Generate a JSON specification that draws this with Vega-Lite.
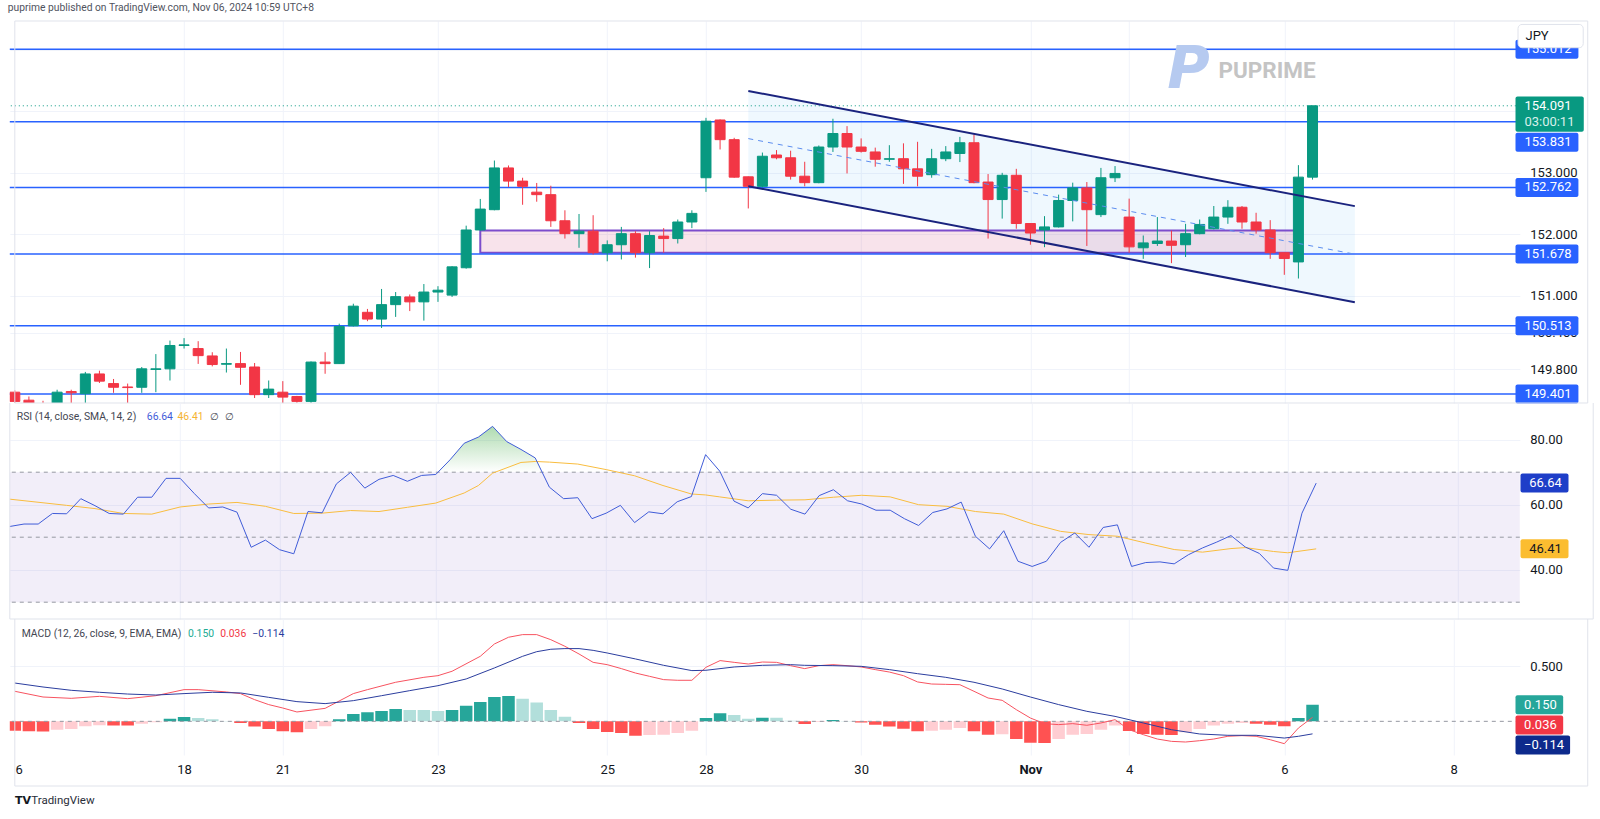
{
"$schema": "https://vega.github.io/schema/vega-lite/v6.json",
"background": "#ffffff",
"padding": {"left": 7.8, "top": 3, "right": 6, "bottom": 4},
"title": {"text": "puprime published on TradingView.com, Nov 06, 2024 10:59 UTC+8", "anchor": "start", "font": "Roboto", "fontSize": 10.3, "fontWeight": "normal", "color": "#50535e", "offset": 7},
"bounds": "flush",
"spacing": 0,
"config": {"view": {"stroke": null}, "axis": {"labelFont": "Roboto", "labelFontSize": 13, "labelColor": "#131722", "gridColor": "#f0f3fa"}, "text": {"font": "Roboto"}},
"datasets": {
"one": [{"k": 1}],
"candles": [
{"i":0,"o":149.43,"h":149.46,"l":149.20,"c":149.28},
{"i":1,"o":149.30,"h":149.36,"l":149.15,"c":149.22},
{"i":2,"o":149.22,"h":149.29,"l":149.10,"c":149.18},
{"i":3,"o":149.20,"h":149.47,"l":149.18,"c":149.43},
{"i":4,"o":149.44,"h":149.47,"l":149.25,"c":149.42},
{"i":5,"o":149.405,"h":149.76,"l":149.25,"c":149.727},
{"i":6,"o":149.727,"h":149.78,"l":149.58,"c":149.61},
{"i":7,"o":149.57,"h":149.645,"l":149.42,"c":149.51},
{"i":8,"o":149.515,"h":149.57,"l":149.25,"c":149.505},
{"i":9,"o":149.51,"h":149.84,"l":149.42,"c":149.81},
{"i":10,"o":149.80,"h":150.05,"l":149.43,"c":149.81},
{"i":11,"o":149.81,"h":150.27,"l":149.62,"c":150.19},
{"i":12,"o":150.19,"h":150.31,"l":150.14,"c":150.20},
{"i":13,"o":150.14,"h":150.26,"l":149.89,"c":150.025},
{"i":14,"o":150.02,"h":150.08,"l":149.85,"c":149.88},
{"i":15,"o":149.885,"h":150.14,"l":149.75,"c":149.895},
{"i":16,"o":149.895,"h":150.085,"l":149.55,"c":149.835},
{"i":17,"o":149.84,"h":149.905,"l":149.335,"c":149.39},
{"i":18,"o":149.39,"h":149.62,"l":149.335,"c":149.48},
{"i":19,"o":149.43,"h":149.61,"l":149.25,"c":149.35},
{"i":20,"o":149.36,"h":149.37,"l":149.22,"c":149.28},
{"i":21,"o":149.28,"h":149.93,"l":149.22,"c":149.92},
{"i":22,"o":149.92,"h":150.08,"l":149.73,"c":149.895},
{"i":23,"o":149.895,"h":150.545,"l":149.89,"c":150.50},
{"i":24,"o":150.51,"h":150.87,"l":150.50,"c":150.83},
{"i":25,"o":150.73,"h":150.785,"l":150.585,"c":150.62},
{"i":26,"o":150.62,"h":151.11,"l":150.475,"c":150.855},
{"i":27,"o":150.855,"h":151.06,"l":150.655,"c":150.985},
{"i":28,"o":150.98,"h":151.02,"l":150.75,"c":150.90},
{"i":29,"o":150.90,"h":151.19,"l":150.595,"c":151.06},
{"i":30,"o":151.06,"h":151.155,"l":150.90,"c":151.09},
{"i":31,"o":151.01,"h":151.48,"l":150.98,"c":151.47},
{"i":32,"o":151.455,"h":152.14,"l":151.44,"c":152.07},
{"i":33,"o":152.07,"h":152.575,"l":152.06,"c":152.41},
{"i":34,"o":152.40,"h":153.20,"l":152.39,"c":153.08},
{"i":35,"o":153.08,"h":153.12,"l":152.77,"c":152.865},
{"i":36,"o":152.865,"h":152.92,"l":152.48,"c":152.78},
{"i":37,"o":152.685,"h":152.835,"l":152.53,"c":152.645},
{"i":38,"o":152.645,"h":152.79,"l":152.12,"c":152.22},
{"i":39,"o":152.22,"h":152.39,"l":151.93,"c":152.01},
{"i":40,"o":152.01,"h":152.33,"l":151.78,"c":152.05},
{"i":41,"o":152.05,"h":152.31,"l":151.67,"c":151.70},
{"i":42,"o":151.70,"h":151.90,"l":151.56,"c":151.83},
{"i":43,"o":151.83,"h":152.12,"l":151.59,"c":152.01},
{"i":44,"o":152.01,"h":152.05,"l":151.62,"c":151.70},
{"i":45,"o":151.70,"h":152.05,"l":151.45,"c":151.98},
{"i":46,"o":151.97,"h":152.10,"l":151.70,"c":151.93},
{"i":47,"o":151.93,"h":152.24,"l":151.85,"c":152.20},
{"i":48,"o":152.20,"h":152.39,"l":152.10,"c":152.34},
{"i":49,"o":152.92,"h":153.895,"l":152.69,"c":153.84},
{"i":50,"o":153.86,"h":153.87,"l":153.38,"c":153.54},
{"i":51,"o":153.54,"h":153.57,"l":152.92,"c":152.93},
{"i":52,"o":152.935,"h":152.94,"l":152.42,"c":152.78},
{"i":53,"o":152.78,"h":153.33,"l":152.76,"c":153.27},
{"i":54,"o":153.29,"h":153.37,"l":153.22,"c":153.245},
{"i":55,"o":153.245,"h":153.36,"l":152.89,"c":152.945},
{"i":56,"o":152.945,"h":153.18,"l":152.78,"c":152.84},
{"i":57,"o":152.84,"h":153.445,"l":152.83,"c":153.42},
{"i":58,"o":153.42,"h":153.88,"l":153.34,"c":153.64},
{"i":59,"o":153.64,"h":153.76,"l":152.99,"c":153.42},
{"i":60,"o":153.42,"h":153.56,"l":153.33,"c":153.35},
{"i":61,"o":153.34,"h":153.41,"l":153.10,"c":153.22},
{"i":62,"o":153.22,"h":153.45,"l":153.18,"c":153.23},
{"i":63,"o":153.23,"h":153.48,"l":152.82,"c":153.065},
{"i":64,"o":153.065,"h":153.505,"l":152.78,"c":152.945},
{"i":65,"o":152.97,"h":153.39,"l":152.92,"c":153.23},
{"i":66,"o":153.23,"h":153.435,"l":153.19,"c":153.34},
{"i":67,"o":153.315,"h":153.585,"l":153.175,"c":153.49},
{"i":68,"o":153.49,"h":153.62,"l":152.83,"c":152.84},
{"i":69,"o":152.85,"h":152.98,"l":151.93,"c":152.565},
{"i":70,"o":152.565,"h":153.0,"l":152.255,"c":152.96},
{"i":71,"o":152.96,"h":153.065,"l":152.09,"c":152.175},
{"i":72,"o":152.175,"h":152.18,"l":151.83,"c":152.02},
{"i":73,"o":152.07,"h":152.295,"l":151.79,"c":152.12},
{"i":74,"o":152.12,"h":152.645,"l":152.11,"c":152.55},
{"i":75,"o":152.55,"h":152.84,"l":152.21,"c":152.755},
{"i":76,"o":152.755,"h":152.85,"l":151.81,"c":152.40},
{"i":77,"o":152.32,"h":153.08,"l":152.28,"c":152.92},
{"i":78,"o":152.92,"h":153.11,"l":152.85,"c":152.99},
{"i":79,"o":152.28,"h":152.58,"l":151.70,"c":151.795},
{"i":80,"o":151.78,"h":151.98,"l":151.60,"c":151.86},
{"i":81,"o":151.85,"h":152.28,"l":151.81,"c":151.89},
{"i":82,"o":151.89,"h":152.06,"l":151.53,"c":151.82},
{"i":83,"o":151.83,"h":152.17,"l":151.63,"c":152.01},
{"i":84,"o":152.01,"h":152.24,"l":152.0,"c":152.16},
{"i":85,"o":152.09,"h":152.46,"l":152.08,"c":152.28},
{"i":86,"o":152.28,"h":152.555,"l":152.17,"c":152.44},
{"i":87,"o":152.44,"h":152.46,"l":152.09,"c":152.20},
{"i":88,"o":152.20,"h":152.35,"l":152.01,"c":152.07},
{"i":89,"o":152.07,"h":152.23,"l":151.60,"c":151.70},
{"i":90,"o":151.70,"h":151.70,"l":151.34,"c":151.605},
{"i":91,"o":151.55,"h":153.125,"l":151.28,"c":152.93},
{"i":92,"o":152.93,"h":154.09,"l":152.89,"c":154.091}
],
"levels": [{"p":155.012},{"p":153.831},{"p":152.762},{"p":151.678},{"p":150.513},{"p":149.401}],
"pbox": [{"p":155.012},{"p":152.762},{"p":151.678},{"p":150.513},{"p":149.401}],
"pbox2": [{"p":153.831}],
"last": [{"p":154.091}],
"channel": [{"i":52,"up":154.332,"mid":153.557,"lo":152.783},{"i":95,"up":152.458,"mid":151.676,"lo":150.894}],
"zone": [{"i1":33,"i2":91,"top":152.06,"bot":151.70}],
"rsi": [
{"i":0,"v":53.3},{"i":1,"v":54.05},{"i":2,"v":54.05},{"i":3,"v":57.3},{"i":4,"v":57.2},{"i":5,"v":61.85},{"i":6,"v":59.7},{"i":7,"v":57.3},{"i":8,"v":57.1},{"i":9,"v":62.3},
{"i":10,"v":62.3},{"i":11,"v":68.1},{"i":12,"v":68.1},{"i":13,"v":63.4},{"i":14,"v":59.0},{"i":15,"v":59.3},{"i":16,"v":57.7},{"i":17,"v":46.9},{"i":18,"v":49.1},{"i":19,"v":46.15},
{"i":20,"v":44.9},{"i":21,"v":57.9},{"i":22,"v":57.5},{"i":23,"v":66.4},{"i":24,"v":69.95},{"i":25,"v":65.1},{"i":26,"v":67.8},{"i":27,"v":69.0},{"i":28,"v":67.2},{"i":29,"v":69.0},
{"i":30,"v":69.3},{"i":31,"v":73.8},{"i":32,"v":78.9},{"i":33,"v":80.8},{"i":34,"v":84.1},{"i":35,"v":79.4},{"i":36,"v":77.0},{"i":37,"v":74.4},{"i":38,"v":65.4},{"i":39,"v":61.85},
{"i":40,"v":62.15},{"i":41,"v":55.7},{"i":42,"v":57.4},{"i":43,"v":59.8},{"i":44,"v":54.5},{"i":45,"v":57.8},{"i":46,"v":57.2},{"i":47,"v":60.9},{"i":48,"v":62.5},{"i":49,"v":75.4},
{"i":50,"v":70.3},{"i":51,"v":61.1},{"i":52,"v":59.0},{"i":53,"v":63.4},{"i":54,"v":62.9},{"i":55,"v":58.6},{"i":56,"v":57.1},{"i":57,"v":62.8},{"i":58,"v":64.6},{"i":59,"v":61.2},
{"i":60,"v":60.2},{"i":61,"v":58.3},{"i":62,"v":58.3},{"i":63,"v":55.7},{"i":64,"v":53.6},{"i":65,"v":57.6},{"i":66,"v":58.7},{"i":67,"v":60.8},{"i":68,"v":50.3},{"i":69,"v":46.4},
{"i":70,"v":52.0},{"i":71,"v":42.6},{"i":72,"v":41.0},{"i":73,"v":42.6},{"i":74,"v":48.4},{"i":75,"v":51.3},{"i":76,"v":46.9},{"i":77,"v":53.0},{"i":78,"v":53.8},{"i":79,"v":41.0},
{"i":80,"v":42.2},{"i":81,"v":42.4},{"i":82,"v":41.8},{"i":83,"v":44.6},{"i":84,"v":46.7},{"i":85,"v":48.5},{"i":86,"v":50.5},{"i":87,"v":47.0},{"i":88,"v":45.0},{"i":89,"v":40.5},
{"i":90,"v":39.8},{"i":91,"v":57.4},{"i":92,"v":66.64}
],
"rsima": [
{"i":0,"v":61.7},{"i":4,"v":59.8},{"i":6,"v":58.8},{"i":8,"v":57.3},{"i":10,"v":57.1},{"i":12,"v":59.3},{"i":14,"v":60.2},{"i":16,"v":60.7},{"i":18,"v":59.5},{"i":20,"v":57.3},
{"i":22,"v":57.4},{"i":24,"v":58.2},{"i":26,"v":57.9},{"i":28,"v":59.2},{"i":30,"v":60.5},{"i":32,"v":63.6},{"i":33,"v":65.9},{"i":34,"v":69.7},{"i":36,"v":73.0},{"i":37,"v":73.3},
{"i":38,"v":73.1},{"i":40,"v":72.5},{"i":42,"v":70.8},{"i":44,"v":68.9},{"i":46,"v":65.9},{"i":48,"v":63.3},{"i":49,"v":63.0},{"i":50,"v":62.4},{"i":52,"v":61.2},{"i":54,"v":61.4},
{"i":56,"v":61.5},{"i":58,"v":62.3},{"i":60,"v":62.9},{"i":62,"v":62.4},{"i":64,"v":60.0},{"i":66,"v":59.5},{"i":68,"v":57.9},{"i":70,"v":57.1},{"i":72,"v":54.1},{"i":74,"v":51.8},
{"i":76,"v":50.8},{"i":78,"v":50.3},{"i":80,"v":48.2},{"i":82,"v":46.2},{"i":84,"v":45.4},{"i":86,"v":46.5},{"i":87,"v":46.8},{"i":89,"v":45.6},{"i":90,"v":45.2},{"i":92,"v":46.41}
],
"ob": [{"i":30.16,"v":70},{"i":31,"v":73.8},{"i":32,"v":78.9},{"i":33,"v":80.8},{"i":34,"v":84.1},{"i":35,"v":79.4},{"i":36,"v":77.0},{"i":37,"v":74.4},{"i":37.51,"v":70}],
"rsilev": [{"r":70},{"r":50},{"r":30}],
"rsilast": [{"v":66.64}],
"malast": [{"v":46.41}],
"macd": [
{"i":0,"v":0.273},{"i":2,"v":0.221},{"i":4,"v":0.209},{"i":6,"v":0.227},{"i":8,"v":0.206},{"i":10,"v":0.233},{"i":12,"v":0.288},{"i":13,"v":0.288},{"i":15,"v":0.267},{"i":16,"v":0.252},
{"i":17,"v":0.197},{"i":18,"v":0.152},{"i":19,"v":0.121},{"i":20,"v":0.085},{"i":22,"v":0.118},{"i":24,"v":0.252},{"i":25,"v":0.288},{"i":27,"v":0.355},{"i":29,"v":0.400},{"i":30,"v":0.415},
{"i":31,"v":0.455},{"i":33,"v":0.591},{"i":34,"v":0.703},{"i":35,"v":0.764},{"i":36,"v":0.788},{"i":37,"v":0.788},{"i":38,"v":0.742},{"i":39,"v":0.682},{"i":40,"v":0.612},{"i":41,"v":0.536},
{"i":42,"v":0.515},{"i":43,"v":0.479},{"i":44,"v":0.439},{"i":45,"v":0.409},{"i":46,"v":0.379},{"i":47,"v":0.373},{"i":48,"v":0.373},{"i":49,"v":0.491},{"i":50,"v":0.552},{"i":51,"v":0.536},
{"i":52,"v":0.521},{"i":53,"v":0.539},{"i":54,"v":0.536},{"i":55,"v":0.506},{"i":56,"v":0.479},{"i":57,"v":0.506},{"i":58,"v":0.515},{"i":59,"v":0.506},{"i":60,"v":0.494},{"i":61,"v":0.470},
{"i":62,"v":0.448},{"i":63,"v":0.415},{"i":64,"v":0.358},{"i":65,"v":0.339},{"i":66,"v":0.336},{"i":67,"v":0.333},{"i":68,"v":0.273},{"i":69,"v":0.212},{"i":70,"v":0.191},{"i":71,"v":0.106},
{"i":72,"v":0.030},{"i":73,"v":-0.021},{"i":74,"v":-0.030},{"i":75,"v":-0.021},{"i":76,"v":-0.036},{"i":77,"v":-0.015},{"i":78,"v":0.015},{"i":79,"v":-0.076},{"i":80,"v":-0.121},{"i":81,"v":-0.161},
{"i":82,"v":-0.182},{"i":83,"v":-0.188},{"i":84,"v":-0.176},{"i":85,"v":-0.161},{"i":86,"v":-0.136},{"i":87,"v":-0.130},{"i":88,"v":-0.136},{"i":89,"v":-0.167},{"i":90,"v":-0.203},{"i":91,"v":-0.061},
{"i":92,"v":0.036}
],
"signal": [
{"i":0,"v":0.348},{"i":2,"v":0.312},{"i":4,"v":0.282},{"i":6,"v":0.264},{"i":8,"v":0.248},{"i":10,"v":0.239},{"i":12,"v":0.252},{"i":14,"v":0.264},{"i":16,"v":0.258},{"i":18,"v":0.218},
{"i":20,"v":0.179},{"i":22,"v":0.161},{"i":24,"v":0.188},{"i":26,"v":0.233},{"i":28,"v":0.279},{"i":30,"v":0.324},{"i":32,"v":0.385},{"i":34,"v":0.485},{"i":36,"v":0.591},{"i":37,"v":0.633},
{"i":38,"v":0.655},{"i":39,"v":0.661},{"i":40,"v":0.661},{"i":41,"v":0.645},{"i":42,"v":0.621},{"i":44,"v":0.567},{"i":46,"v":0.509},{"i":48,"v":0.461},{"i":49,"v":0.464},{"i":51,"v":0.494},
{"i":53,"v":0.509},{"i":55,"v":0.515},{"i":56,"v":0.509},{"i":58,"v":0.506},{"i":60,"v":0.500},{"i":62,"v":0.470},{"i":64,"v":0.433},{"i":66,"v":0.400},{"i":68,"v":0.355},{"i":70,"v":0.294},
{"i":72,"v":0.221},{"i":74,"v":0.152},{"i":76,"v":0.091},{"i":78,"v":0.045},{"i":80,"v":-0.015},{"i":82,"v":-0.076},{"i":84,"v":-0.115},{"i":86,"v":-0.127},{"i":88,"v":-0.127},{"i":90,"v":-0.152},
{"i":91,"v":-0.136},{"i":92,"v":-0.114}
],
"hist": [
{"i":0,"h":-0.085},{"i":1,"h":-0.090},{"i":2,"h":-0.092},{"i":3,"h":-0.076},{"i":4,"h":-0.070},{"i":5,"h":-0.045},{"i":6,"h":-0.035},{"i":7,"h":-0.037},{"i":8,"h":-0.039},{"i":9,"h":-0.021},
{"i":10,"h":-0.009},{"i":11,"h":0.024},{"i":12,"h":0.039},{"i":13,"h":0.030},{"i":14,"h":0.018},{"i":15,"h":0.003},{"i":16,"h":-0.015},{"i":17,"h":-0.048},{"i":18,"h":-0.070},{"i":19,"h":-0.091},
{"i":20,"h":-0.100},{"i":21,"h":-0.070},{"i":22,"h":-0.045},{"i":23,"h":0.018},{"i":24,"h":0.067},{"i":25,"h":0.082},{"i":26,"h":0.094},{"i":27,"h":0.112},{"i":28,"h":0.104},{"i":29,"h":0.102},
{"i":30,"h":0.094},{"i":31,"h":0.103},{"i":32,"h":0.142},{"i":33,"h":0.176},{"i":34,"h":0.221},{"i":35,"h":0.230},{"i":36,"h":0.206},{"i":37,"h":0.170},{"i":38,"h":0.103},{"i":39,"h":0.042},
{"i":40,"h":-0.015},{"i":41,"h":-0.070},{"i":42,"h":-0.097},{"i":43,"h":-0.106},{"i":44,"h":-0.130},{"i":45,"h":-0.124},{"i":46,"h":-0.121},{"i":47,"h":-0.106},{"i":48,"h":-0.085},{"i":49,"h":0.030},
{"i":50,"h":0.073},{"i":51,"h":0.058},{"i":52,"h":0.024},{"i":53,"h":0.033},{"i":54,"h":0.032},{"i":55,"h":0.006},{"i":56,"h":-0.025},{"i":57,"h":-0.005},{"i":58,"h":0.012},{"i":59,"h":0.004},
{"i":60,"h":-0.010},{"i":61,"h":-0.030},{"i":62,"h":-0.048},{"i":63,"h":-0.068},{"i":64,"h":-0.090},{"i":65,"h":-0.085},{"i":66,"h":-0.076},{"i":67,"h":-0.061},{"i":68,"h":-0.091},{"i":69,"h":-0.121},
{"i":70,"h":-0.118},{"i":71,"h":-0.161},{"i":72,"h":-0.195},{"i":73,"h":-0.197},{"i":74,"h":-0.161},{"i":75,"h":-0.121},{"i":76,"h":-0.115},{"i":77,"h":-0.076},{"i":78,"h":-0.039},{"i":79,"h":-0.088},
{"i":80,"h":-0.115},{"i":81,"h":-0.121},{"i":82,"h":-0.124},{"i":83,"h":-0.100},{"i":84,"h":-0.070},{"i":85,"h":-0.039},{"i":86,"h":-0.021},{"i":87,"h":-0.015},{"i":88,"h":-0.021},{"i":89,"h":-0.030},
{"i":90,"h":-0.045},{"i":91,"h":0.030},{"i":92,"h":0.150}
]
},
"vconcat": [
{
"width": 1510, "height": 382,
"layer": [
{"data": {"name": "channel"}, "mark": {"type": "area", "color": "#2196f3", "opacity": 0.07},
 "encoding": {
  "x": {"field": "i", "type": "quantitative", "scale": {"domain": [0, 106.34], "nice": false, "zero": false},
        "axis": {"values": [0.27,12,19,30,42,49,60,72,79,90,102], "labels": false, "ticks": false, "domain": false, "title": null, "grid": true, "gridColor": {"condition": {"test": "datum.value < 1", "value": "transparent"}, "value": "#f0f3fa"}}},
  "y": {"field": "up", "type": "quantitative", "scale": {"domain": [149.254, 155.471], "nice": false, "zero": false},
        "axis": {"orient": "right", "values": [149.8,150.4,151,152,153,154,155], "labelExpr": "datum.value >= 154 ? '' : format(datum.value, '.3f')", "labelPadding": 10, "ticks": false, "domain": false, "title": null, "grid": true, "gridColor": "#f0f3fa"}},
  "y2": {"field": "lo"}}},
{"data": {"name": "zone"}, "mark": {"type": "rect", "fill": "#c2185b", "fillOpacity": 0.12, "stroke": "#7c4dcc", "strokeWidth": 2},
 "encoding": {"x": {"field": "i1", "type": "quantitative"}, "x2": {"field": "i2"}, "y": {"field": "top", "type": "quantitative"}, "y2": {"field": "bot"}}},
{"data": {"name": "levels"}, "mark": {"type": "rule", "color": "#2962ff", "strokeWidth": 1.5},
 "encoding": {"y": {"field": "p", "type": "quantitative"}}},
{"data": {"name": "last"}, "mark": {"type": "rule", "color": "#089981", "strokeWidth": 1, "strokeDash": [1, 3]},
 "encoding": {"y": {"field": "p", "type": "quantitative"}}},
{"data": {"name": "candles"}, "mark": {"type": "rule", "clip": true, "strokeWidth": 1},
 "encoding": {"x": {"field": "i", "type": "quantitative"}, "y": {"field": "l", "type": "quantitative"}, "y2": {"field": "h"},
  "color": {"condition": {"test": "datum.c >= datum.o", "value": "#089981"}, "value": "#f23645"}}},
{"data": {"name": "candles"}, "mark": {"type": "bar", "clip": true, "width": 10, "strokeWidth": 1},
 "encoding": {"x": {"field": "i", "type": "quantitative"}, "y": {"field": "o", "type": "quantitative"}, "y2": {"field": "c"},
  "color": {"condition": {"test": "datum.c >= datum.o", "value": "#089981"}, "value": "#f23645"},
  "stroke": {"condition": {"test": "datum.c >= datum.o", "value": "#089981"}, "value": "#f23645"}}},
{"data": {"name": "channel"}, "mark": {"type": "line", "color": "#1a237e", "strokeWidth": 2},
 "encoding": {"x": {"field": "i", "type": "quantitative"}, "y": {"field": "up", "type": "quantitative"}}},
{"data": {"name": "channel"}, "mark": {"type": "line", "color": "#1a237e", "strokeWidth": 2},
 "encoding": {"x": {"field": "i", "type": "quantitative"}, "y": {"field": "lo", "type": "quantitative"}}},
{"data": {"name": "channel"}, "mark": {"type": "line", "color": "#5b8def", "strokeWidth": 1, "strokeDash": [5, 5]},
 "encoding": {"x": {"field": "i", "type": "quantitative"}, "y": {"field": "mid", "type": "quantitative"}}},
{"data": {"name": "one"}, "mark": {"type": "text", "text": "P", "font": "DejaVu Sans", "fontSize": 58, "fontWeight": "bold", "fontStyle": "italic", "color": "#b6caf0", "align": "center", "baseline": "middle"},
 "encoding": {"x": {"datum": 83.2}, "y": {"datum": 154.66}}},
{"data": {"name": "one"}, "mark": {"type": "text", "text": "PUPRIME", "fontSize": 22.5, "fontWeight": "bold", "color": "#c4c4c4", "align": "left", "baseline": "middle"},
 "encoding": {"x": {"datum": 85.33}, "y": {"datum": 154.656}}},
{"data": {"name": "pbox"}, "mark": {"type": "rect", "fill": "#2962ff", "yOffset": -9.5, "y2Offset": 9.5, "cornerRadius": 2},
 "encoding": {"x": {"datum": 106.39}, "x2": {"datum": 110.85}, "y": {"field": "p", "type": "quantitative"}, "y2": {"field": "p"}}},
{"data": {"name": "pbox"}, "mark": {"type": "text", "align": "left", "baseline": "middle", "color": "#ffffff", "fontSize": 13},
 "encoding": {"x": {"datum": 107.02}, "y": {"field": "p", "type": "quantitative"}, "text": {"field": "p", "type": "quantitative", "format": ".3f"}}},
{"data": {"name": "pbox2"}, "mark": {"type": "rect", "fill": "#2962ff", "yOffset": 11, "y2Offset": 30, "cornerRadius": 2},
 "encoding": {"x": {"datum": 106.39}, "x2": {"datum": 110.85}, "y": {"field": "p", "type": "quantitative"}, "y2": {"field": "p"}}},
{"data": {"name": "pbox2"}, "mark": {"type": "text", "align": "left", "baseline": "middle", "color": "#ffffff", "fontSize": 13, "yOffset": 20.5},
 "encoding": {"x": {"datum": 107.02}, "y": {"field": "p", "type": "quantitative"}, "text": {"field": "p", "type": "quantitative", "format": ".3f"}}},
{"data": {"name": "last"}, "mark": {"type": "rect", "fill": "#089981", "yOffset": -9.3, "y2Offset": 26, "cornerRadius": 2},
 "encoding": {"x": {"datum": 106.39}, "x2": {"datum": 111.23}, "y": {"field": "p", "type": "quantitative"}, "y2": {"field": "p"}}},
{"data": {"name": "last"}, "mark": {"type": "text", "align": "left", "baseline": "middle", "color": "#ffffff", "fontSize": 13},
 "encoding": {"x": {"datum": 107.02}, "y": {"field": "p", "type": "quantitative"}, "text": {"field": "p", "type": "quantitative", "format": ".3f"}}},
{"data": {"name": "last"}, "mark": {"type": "text", "align": "left", "baseline": "middle", "color": "#d8f0ea", "fontSize": 13, "yOffset": 16.7, "text": "03:00:11"},
 "encoding": {"x": {"datum": 107.02}, "y": {"field": "p", "type": "quantitative"}}},
{"data": {"name": "one"}, "mark": {"type": "rect", "fill": "#ffffff", "stroke": "#e0e3eb", "strokeWidth": 1, "cornerRadius": 4},
 "encoding": {"x": {"datum": 106.57}, "x2": {"datum": 111.19}, "y": {"datum": 155.415}, "y2": {"datum": 155.036}}},
{"data": {"name": "one"}, "mark": {"type": "text", "text": "JPY", "align": "left", "baseline": "middle", "color": "#131722", "fontSize": 13},
 "encoding": {"x": {"datum": 107.1}, "y": {"datum": 155.226}}},
{"data": {"name": "one"}, "mark": {"type": "rule", "color": "#e0e3eb", "strokeWidth": 1},
 "encoding": {"x": {"datum": 0}, "x2": {"datum": 111.51}, "y": {"datum": 155.471}}},
{"data": {"name": "one"}, "mark": {"type": "rule", "color": "#e0e3eb", "strokeWidth": 1},
 "encoding": {"x": {"datum": 0}, "x2": {"datum": 111.51}, "y": {"datum": 149.254}}},
{"data": {"name": "one"}, "mark": {"type": "rule", "color": "#e0e3eb", "strokeWidth": 1},
 "encoding": {"x": {"datum": 0}, "y": {"datum": 149.254}, "y2": {"datum": 155.471}}},
{"data": {"name": "one"}, "mark": {"type": "rule", "color": "#e0e3eb", "strokeWidth": 1},
 "encoding": {"x": {"datum": 111.51}, "y": {"datum": 149.254}, "y2": {"datum": 155.471}}}
]
},
{
"width": 1510, "height": 216,
"layer": [
{"data": {"name": "rsi"}, "mark": {"type": "line", "opacity": 0},
 "encoding": {
  "x": {"field": "i", "type": "quantitative", "scale": {"domain": [0, 106.34], "nice": false, "zero": false},
        "axis": {"values": [0.27,12,19,30,42,49,60,72,79,90,102], "labels": false, "ticks": false, "domain": false, "title": null, "grid": true, "gridColor": {"condition": {"test": "datum.value < 1", "value": "transparent"}, "value": "#f0f3fa"}}},
  "y": {"field": "v", "type": "quantitative", "scale": {"domain": [24.83, 91.29], "nice": false, "zero": false},
        "axis": {"orient": "right", "values": [40, 60, 80], "format": ".2f", "labelPadding": 10, "ticks": false, "domain": false, "title": null, "grid": true, "gridColor": "#f0f3fa"}}}},
{"data": {"name": "one"}, "mark": {"type": "rect", "color": "#7e57c2", "opacity": 0.1},
 "encoding": {"x": {"datum": 0}, "x2": {"datum": 106.34}, "y": {"datum": 30}, "y2": {"datum": 70}}},
{"data": {"name": "rsilev"}, "mark": {"type": "rule", "color": "#9598a1", "strokeWidth": 1, "strokeDash": [4, 4]},
 "encoding": {"y": {"field": "r", "type": "quantitative"}}},
{"data": {"name": "ob"}, "mark": {"type": "area", "color": {"gradient": "linear", "x1": 0, "y1": 0, "x2": 0, "y2": 1, "stops": [{"offset": 0, "color": "rgba(76,175,80,0.45)"}, {"offset": 1, "color": "rgba(76,175,80,0)"}]}},
 "encoding": {"x": {"field": "i", "type": "quantitative"}, "y": {"field": "v", "type": "quantitative"}, "y2": {"datum": 70}}},
{"data": {"name": "rsima"}, "mark": {"type": "line", "color": "#f9bd3e", "strokeWidth": 1},
 "encoding": {"x": {"field": "i", "type": "quantitative"}, "y": {"field": "v", "type": "quantitative"}}},
{"data": {"name": "rsi"}, "mark": {"type": "line", "color": "#3f5bd8", "strokeWidth": 1},
 "encoding": {"x": {"field": "i", "type": "quantitative"}, "y": {"field": "v", "type": "quantitative"}}},
{"data": {"name": "rsilast"}, "mark": {"type": "rect", "fill": "#1e3ec8", "yOffset": -9.5, "y2Offset": 9.5, "cornerRadius": 2},
 "encoding": {"x": {"datum": 106.39}, "x2": {"datum": 109.77}, "y": {"field": "v", "type": "quantitative"}, "y2": {"field": "v"}}},
{"data": {"name": "rsilast"}, "mark": {"type": "text", "align": "left", "baseline": "middle", "color": "#ffffff", "fontSize": 13},
 "encoding": {"x": {"datum": 107.0}, "y": {"field": "v", "type": "quantitative"}, "text": {"field": "v", "type": "quantitative", "format": ".2f"}}},
{"data": {"name": "malast"}, "mark": {"type": "rect", "fill": "#fbbd30", "yOffset": -9.5, "y2Offset": 9.5, "cornerRadius": 2},
 "encoding": {"x": {"datum": 106.39}, "x2": {"datum": 109.77}, "y": {"field": "v", "type": "quantitative"}, "y2": {"field": "v"}}},
{"data": {"name": "malast"}, "mark": {"type": "text", "align": "left", "baseline": "middle", "color": "#131722", "fontSize": 13},
 "encoding": {"x": {"datum": 107.0}, "y": {"field": "v", "type": "quantitative"}, "text": {"field": "v", "type": "quantitative", "format": ".2f"}}},
{"data": {"name": "one"}, "mark": {"type": "text", "text": "RSI (14, close, SMA, 14, 2)", "align": "left", "baseline": "middle", "color": "#434651", "fontSize": 10.4},
 "encoding": {"x": {"datum": 0.49}, "y": {"datum": 86.98}}},
{"data": {"name": "one"}, "mark": {"type": "text", "text": "66.64", "align": "left", "baseline": "middle", "color": "#3f5bd8", "fontSize": 10.4},
 "encoding": {"x": {"datum": 9.65}, "y": {"datum": 86.98}}},
{"data": {"name": "one"}, "mark": {"type": "text", "text": "46.41", "align": "left", "baseline": "middle", "color": "#f5b331", "fontSize": 10.4},
 "encoding": {"x": {"datum": 11.81}, "y": {"datum": 86.98}}},
{"data": {"name": "one"}, "mark": {"type": "text", "text": "∅", "align": "left", "baseline": "middle", "color": "#434651", "fontSize": 10.4},
 "encoding": {"x": {"datum": 14.13}, "y": {"datum": 86.98}}},
{"data": {"name": "one"}, "mark": {"type": "text", "text": "∅", "align": "left", "baseline": "middle", "color": "#434651", "fontSize": 10.4},
 "encoding": {"x": {"datum": 15.15}, "y": {"datum": 86.98}}},
{"data": {"name": "one"}, "mark": {"type": "rule", "color": "#e0e3eb", "strokeWidth": 1},
 "encoding": {"x": {"datum": 0}, "x2": {"datum": 111.51}, "y": {"datum": 24.83}}},
{"data": {"name": "one"}, "mark": {"type": "rule", "color": "#e0e3eb", "strokeWidth": 1},
 "encoding": {"x": {"datum": 0}, "y": {"datum": 24.83}, "y2": {"datum": 91.29}}},
{"data": {"name": "one"}, "mark": {"type": "rule", "color": "#e0e3eb", "strokeWidth": 1},
 "encoding": {"x": {"datum": 111.51}, "y": {"datum": 24.83}, "y2": {"datum": 91.29}}}
]
},
{
"width": 1510, "height": 136,
"layer": [
{"data": {"name": "hist"}, "transform": [{"window": [{"op": "lag", "field": "h", "as": "hp"}], "sort": [{"field": "i"}]}],
 "mark": {"type": "bar", "width": 12.5, "clip": true},
 "encoding": {
  "x": {"field": "i", "type": "quantitative", "scale": {"domain": [0, 106.34], "nice": false, "zero": false},
        "axis": {"values": [0.27,12,19,30,42,49,60,72,79,90,102],
                 "labelExpr": "datum.value < 1 ? '6' : datum.value == 12 ? '18' : datum.value == 19 ? '21' : datum.value == 30 ? '23' : datum.value == 42 ? '25' : datum.value == 49 ? '28' : datum.value == 60 ? '30' : datum.value == 72 ? 'Nov' : datum.value == 79 ? '4' : datum.value == 90 ? '6' : '8'",
                 "labelFontWeight": {"condition": {"test": "datum.value == 72", "value": "bold"}, "value": "normal"},
                 "labelPadding": 9, "labelFlush": false, "labelOverlap": false, "ticks": false, "domain": false, "grid": true,
                 "gridColor": {"condition": {"test": "datum.value < 1", "value": "transparent"}, "value": "#f0f3fa"},
                 "title": "TradingView", "titleFont": "Roboto", "titleFontSize": 11.5, "titleFontWeight": "normal", "titleColor": "#2a2e39",
                 "titleAnchor": "start", "titleAlign": "left", "titleBaseline": "middle", "titleX": 21, "titleY": 46}},
  "y": {"field": "h", "type": "quantitative", "scale": {"domain": [-0.306, 0.93], "nice": false, "zero": false},
        "axis": {"orient": "right", "values": [0.5], "format": ".3f", "labelPadding": 10, "ticks": false, "domain": false, "title": null, "grid": true, "gridColor": "#f0f3fa"}},
  "y2": {"datum": 0},
  "color": {"condition": [
     {"test": "datum.h >= 0 && (datum.hp == null || datum.h >= datum.hp)", "value": "#26a69a"},
     {"test": "datum.h >= 0", "value": "#b2dfdb"},
     {"test": "datum.hp == null || datum.h <= datum.hp", "value": "#ff5252"}],
   "value": "#ffcdd2"}}},
{"data": {"name": "one"}, "mark": {"type": "rule", "color": "#9598a1", "strokeWidth": 1, "strokeDash": [4, 4]},
 "encoding": {"y": {"datum": 0}}},
{"data": {"name": "macd"}, "mark": {"type": "line", "color": "#f7525f", "strokeWidth": 1},
 "encoding": {"x": {"field": "i", "type": "quantitative"}, "y": {"field": "v", "type": "quantitative"}}},
{"data": {"name": "signal"}, "mark": {"type": "line", "color": "#2a3c9e", "strokeWidth": 1},
 "encoding": {"x": {"field": "i", "type": "quantitative"}, "y": {"field": "v", "type": "quantitative"}}},
{"data": {"name": "one"}, "mark": {"type": "rect", "fill": "#26a69a", "yOffset": -9.5, "y2Offset": 9.5, "cornerRadius": 2},
 "encoding": {"x": {"datum": 106.39}, "x2": {"datum": 109.77}, "y": {"datum": 0.150}, "y2": {"datum": 0.150}}},
{"data": {"name": "one"}, "mark": {"type": "text", "text": "0.150", "align": "left", "baseline": "middle", "color": "#ffffff", "fontSize": 13},
 "encoding": {"x": {"datum": 107.0}, "y": {"datum": 0.150}}},
{"data": {"name": "one"}, "mark": {"type": "rect", "fill": "#f23645", "yOffset": -1.8, "y2Offset": 17.2, "cornerRadius": 2},
 "encoding": {"x": {"datum": 106.39}, "x2": {"datum": 109.77}, "y": {"datum": 0.036}, "y2": {"datum": 0.036}}},
{"data": {"name": "one"}, "mark": {"type": "text", "text": "0.036", "align": "left", "baseline": "middle", "color": "#ffffff", "fontSize": 13, "yOffset": 7.7},
 "encoding": {"x": {"datum": 107.0}, "y": {"datum": 0.036}}},
{"data": {"name": "one"}, "mark": {"type": "rect", "fill": "#0d2a8c", "yOffset": 1.7, "y2Offset": 20.7, "cornerRadius": 2},
 "encoding": {"x": {"datum": 106.39}, "x2": {"datum": 110.26}, "y": {"datum": -0.114}, "y2": {"datum": -0.114}}},
{"data": {"name": "one"}, "mark": {"type": "text", "text": "−0.114", "align": "left", "baseline": "middle", "color": "#ffffff", "fontSize": 13, "yOffset": 11.2},
 "encoding": {"x": {"datum": 107.0}, "y": {"datum": -0.114}}},
{"data": {"name": "one"}, "mark": {"type": "text", "text": "MACD (12, 26, close, 9, EMA, EMA)", "align": "left", "baseline": "middle", "color": "#434651", "fontSize": 10.4},
 "encoding": {"x": {"datum": 0.49}, "y": {"datum": 0.794}}},
{"data": {"name": "one"}, "mark": {"type": "text", "text": "0.150", "align": "left", "baseline": "middle", "color": "#22ab94", "fontSize": 10.4},
 "encoding": {"x": {"datum": 12.28}, "y": {"datum": 0.794}}},
{"data": {"name": "one"}, "mark": {"type": "text", "text": "0.036", "align": "left", "baseline": "middle", "color": "#f23645", "fontSize": 10.4},
 "encoding": {"x": {"datum": 14.56}, "y": {"datum": 0.794}}},
{"data": {"name": "one"}, "mark": {"type": "text", "text": "−0.114", "align": "left", "baseline": "middle", "color": "#2a3c9e", "fontSize": 10.4},
 "encoding": {"x": {"datum": 16.84}, "y": {"datum": 0.794}}},
{"data": {"name": "one"}, "mark": {"type": "text", "text": "TV", "font": "DejaVu Sans", "fontWeight": "bold", "align": "center", "baseline": "middle", "color": "#131722", "fontSize": 11},
 "encoding": {"x": {"datum": 0.58}, "y": {"datum": -0.7245}}},
{"data": {"name": "one"}, "mark": {"type": "rule", "color": "#e0e3eb", "strokeWidth": 1},
 "encoding": {"x": {"datum": 0}, "x2": {"datum": 111.51}, "y": {"datum": -0.588}}},
{"data": {"name": "one"}, "mark": {"type": "rule", "color": "#e0e3eb", "strokeWidth": 1},
 "encoding": {"x": {"datum": 0}, "y": {"datum": -0.588}, "y2": {"datum": 0.93}}},
{"data": {"name": "one"}, "mark": {"type": "rule", "color": "#e0e3eb", "strokeWidth": 1},
 "encoding": {"x": {"datum": 111.51}, "y": {"datum": -0.588}, "y2": {"datum": 0.93}}}
]
}
]
}
